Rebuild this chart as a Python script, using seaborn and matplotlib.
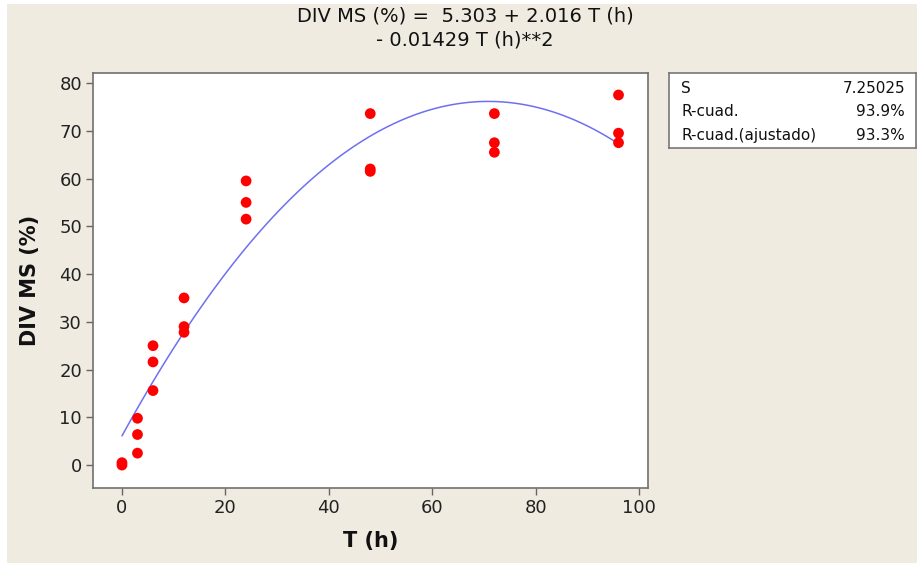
import matplotlib
matplotlib.use("Agg")
import matplotlib.pyplot as plt
from matplotlib.patches import Rectangle
import seaborn as sns
import pandas as pd

# Data
t_hours = [0, 0, 3, 3, 3, 6, 6, 6, 12, 12, 12, 24, 24, 24, 48, 48, 48, 72, 72, 72, 96, 96, 96]
div_ms = [0.0, 0.5, 9.8, 6.4, 2.5, 25.0, 21.6, 15.6, 35.0, 29.0, 27.8,
          59.5, 55.0, 51.5, 73.6, 62.0, 61.5, 73.6, 67.5, 65.5, 77.5, 69.5, 67.5]
x_ticks = [0, 20, 40, 60, 80, 100]
y_ticks = [0, 10, 20, 30, 40, 50, 60, 70, 80]
title_text = "DIV MS (%) =  5.303 + 2.016 T (h)\n- 0.01429 T (h)**2"
stat_names = ["S", "R-cuad.", "R-cuad.(ajustado)"]
stat_values = ["7.25025", "93.9%", "93.3%"]

df = pd.DataFrame({"T (h)": t_hours, "DIV MS (%)": div_ms})

sns.set_style("ticks")
plt.rcParams["font.family"] = ["DejaVu Sans"]

W, H = 917, 563
bg = "#EFEBE1"
fig = plt.figure(figsize=(W / 100, H / 100), dpi=100, facecolor="white")
fig.patches.append(Rectangle((7 / W, 0), 1 - 7 / W, 1 - 4 / H, transform=fig.transFigure,
                             facecolor=bg, edgecolor="none", zorder=-10))

ax = fig.add_axes([93 / W, 1 - 488 / H, (648 - 93) / W, (488 - 73) / H])
ax.set_facecolor("white")

sns.regplot(data=df, x="T (h)", y="DIV MS (%)", order=2, ci=None, scatter=False,
            truncate=True, line_kws={"color": "#6F6FF2", "lw": 1.1}, ax=ax)
sns.scatterplot(data=df, x="T (h)", y="DIV MS (%)", color="#FF0000", s=60,
                edgecolor="none", ax=ax, zorder=3)

ax.set_xlim(-5.6, 101.7)
ax.set_ylim(-4.8, 82.1)
ax.set_xticks(x_ticks)
ax.set_yticks(y_ticks)
ax.tick_params(axis="both", labelsize=13, length=5, width=1, color="#666666",
               labelcolor="#222222", pad=3)
for s in ax.spines.values():
    s.set_visible(True)
    s.set_color("#707070")
    s.set_linewidth(1.2)
ax.set_xlabel("T (h)", fontsize=15, fontweight="bold", labelpad=10, color="#111111")
ax.set_ylabel("DIV MS (%)", fontsize=15, fontweight="bold", labelpad=14, color="#111111")
fig.text(465 / W, 1 - 6 / H, title_text, ha="center", va="top", fontsize=14,
         linespacing=1.35, color="#111111")

# Stats box
bx = fig.add_axes([669 / W, 1 - 148 / H, (916 - 669) / W, (148 - 73) / H])
bx.set_facecolor("white")
bx.set_xticks([])
bx.set_yticks([])
for s in bx.spines.values():
    s.set_color("#777777")
    s.set_linewidth(1.2)
bx.set_xlim(0, 1)
bx.set_ylim(0, 1)
for i, (n, v) in enumerate(zip(stat_names, stat_values)):
    yy = 1 - (88 - 73 + i * 23.5) / 75
    bx.text(0.05, yy, n, ha="left", va="center", fontsize=11, color="#111111")
    bx.text(0.955, yy, v, ha="right", va="center", fontsize=11, color="#111111")

fig.savefig("out.png", dpi=100, facecolor="white")
